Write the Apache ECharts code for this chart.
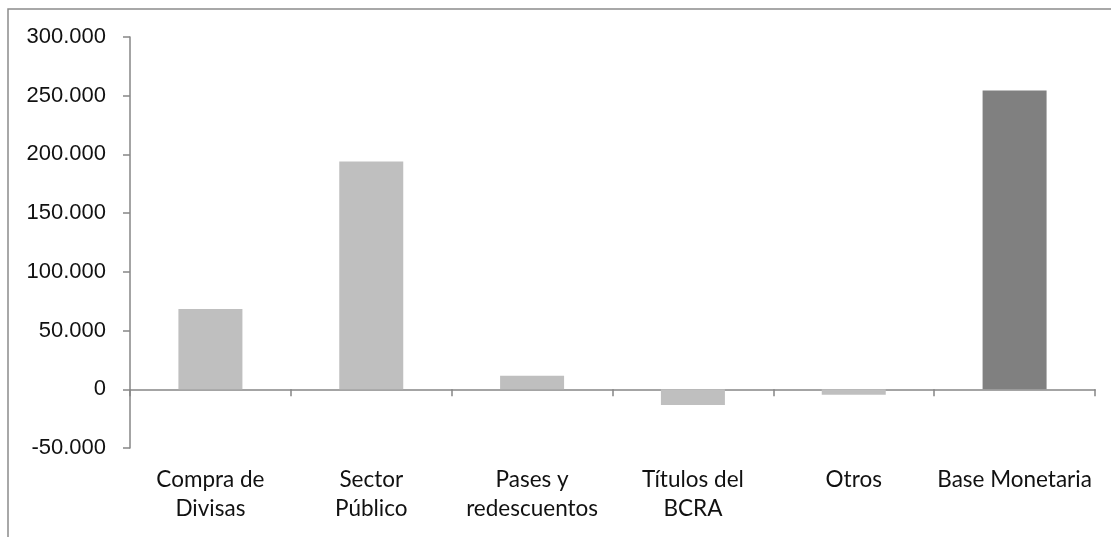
<!DOCTYPE html>
<html>
<head>
<meta charset="utf-8">
<script src="https://cdn.jsdelivr.net/npm/echarts@6/dist/echarts.min.js"></script>
<style>
html,body{margin:0;padding:0;background:#fff;}
#chart{width:1111px;height:537px;}
</style>
</head>
<body>
<div id="chart"></div>
<script>
const categories = ['Compra de\nDivisas', 'Sector\nPúblico', 'Pases y\nredescuentos', 'Títulos del\nBCRA', 'Otros', 'Base Monetaria'];
const values = [68300, 193900, 11500, -13300, -4600, 254500];
const yTicks = { min: -50000, max: 300000, interval: 50000 };

function fmt(v) {
  const s = Math.abs(v).toString().replace(/\B(?=(\d{3})+(?!\d))/g, '.');
  return (v < 0 ? '-' : '') + s;
}

const chart = echarts.init(document.getElementById('chart'));
chart.setOption({
  animation: false,
  backgroundColor: '#ffffff',
  graphic: [{
    type: 'rect',
    shape: { x: 8, y: 9, width: 1300, height: 700 },
    style: { fill: 'none', stroke: '#8c8c8c', lineWidth: 1.5 },
    silent: true
  }],
  grid: { left: 130, right: 16, top: 37, bottom: 89 },
  xAxis: [{
    type: 'category',
    data: categories,
    position: 'bottom',
    axisLine: { show: false, onZero: false },
    axisTick: { show: false },
    axisLabel: {
      interval: 0,
      fontFamily: 'Lato',
      fontSize: 22.5,
      color: '#111',
      lineHeight: 29,
      margin: 17
    }
  }, {
    type: 'category',
    data: categories,
    position: 'bottom',
    axisLine: { show: true, onZero: true, lineStyle: { color: '#868686', width: 1.5 } },
    axisTick: { show: true, length: 7, lineStyle: { color: '#868686', width: 1.5 } },
    axisLabel: { show: false }
  }],
  yAxis: {
    type: 'value',
    min: yTicks.min,
    max: yTicks.max,
    interval: yTicks.interval,
    axisLine: { show: true, lineStyle: { color: '#868686', width: 1.5 } },
    axisTick: { show: true, length: 7, lineStyle: { color: '#868686', width: 1.5 } },
    splitLine: { show: false },
    axisLabel: {
      formatter: fmt,
      fontFamily: 'Liberation Sans',
      fontSize: 22,
      color: '#111',
      margin: 24
    }
  },
  series: [{
    type: 'bar',
    xAxisIndex: 0,
    barWidth: 64,
    data: values.map((v, i) => ({
      value: v,
      itemStyle: { color: i === values.length - 1 ? '#808080' : '#bfbfbf' }
    }))
  }]
});
</script>
</body>
</html>
